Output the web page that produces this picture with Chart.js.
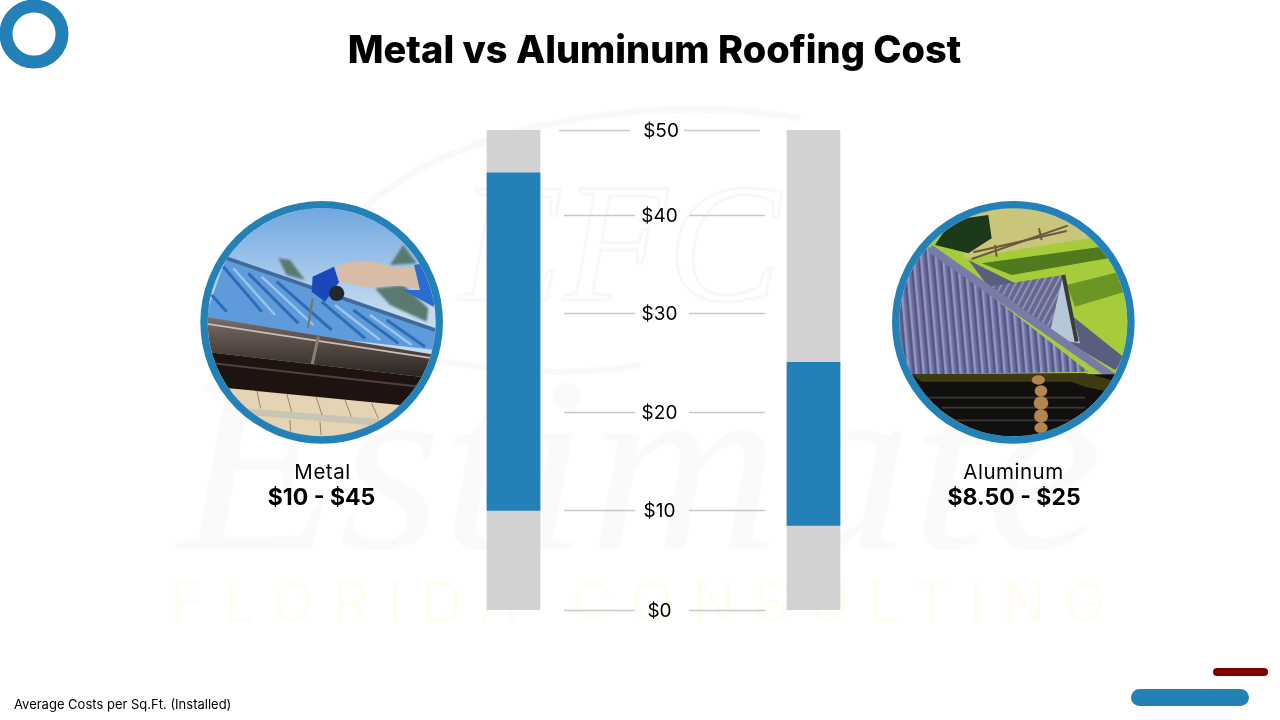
<!DOCTYPE html>
<html>
<head>
<meta charset="utf-8">
<title>Metal vs Aluminum Roofing Cost</title>
<script src="https://cdn.jsdelivr.net/npm/chart.js@4"></script>
<style>
  html, body { margin: 0; padding: 0; background: #fff; }
  #page { position: relative; width: 1280px; height: 720px; overflow: hidden; font-family: Inter, sans-serif; color: #000; }
  #art, #chart { position: absolute; left: 0; top: 0; }
  .txt { position: absolute; white-space: nowrap; text-align: center; transform: translateX(-50%); }
  #title { left: 654.5px; top: 26px; font-size: 38px; font-weight: 800; }
  .name { top: 459px; font-size: 20.5px; font-weight: 400; letter-spacing: 0.5px; }
  .range { top: 483px; font-size: 23px; font-weight: 700; }
  #note { position: absolute; left: 14px; top: 696px; font-size: 13px; white-space: nowrap; }
</style>
</head>
<body>
<div id="page">
  <svg id="art" width="1280" height="720" viewBox="0 0 1280 720">
    <defs>
      <clipPath id="clipLeft"><circle cx="395" cy="382" r="342"/></clipPath>
      <clipPath id="clipRight"><circle cx="385" cy="382" r="342"/></clipPath>
      <linearGradient id="sky" x1="0" y1="0" x2="0" y2="1">
        <stop offset="0" stop-color="#6fa6e0"/><stop offset="0.45" stop-color="#c3daf0"/>
      </linearGradient>
      <linearGradient id="gutter" x1="0" y1="0" x2="0" y2="1">
        <stop offset="0" stop-color="#7a6e66"/><stop offset="0.6" stop-color="#4a403a"/><stop offset="1" stop-color="#2a2320"/>
      </linearGradient>
      <filter id="soft"><feGaussianBlur stdDeviation="3"/></filter>
      <pattern id="ribs" width="22" height="30" patternUnits="userSpaceOnUse" patternTransform="rotate(-5)">
        <rect width="22" height="30" fill="#6a6c9c"/><rect width="7" height="30" fill="#9496c4"/><rect x="15" width="5" height="30" fill="#4e5080"/>
      </pattern>
      <pattern id="ribs2" width="18" height="30" patternUnits="userSpaceOnUse" patternTransform="rotate(28)">
        <rect width="18" height="30" fill="#65678f"/><rect width="6" height="30" fill="#8e90b8"/>
      </pattern>
    </defs>

    <!-- faint watermark -->
    <g fill="none" stroke="#f9f9f9">
      <path d="M345 230 C 420 130, 640 90, 800 118" stroke-width="7"/>
      <path d="M340 330 C 420 370, 560 380, 640 365" stroke-width="6"/>
    </g>
    <text x="620" y="300" text-anchor="middle" font-family="Liberation Serif" font-style="italic" font-size="170" fill="none" stroke="#f8f8f8" stroke-width="3">EFC</text>
    <text x="640" y="548" text-anchor="middle" font-family="Liberation Serif" font-style="italic" font-size="250" textLength="925" lengthAdjust="spacingAndGlyphs" fill="#fafafa">Estimate</text>
    <text x="638" y="622" text-anchor="middle" font-family="Inter" font-size="56" textLength="935" fill="#fffdf3">FLORIDA CONSULTING</text>

    <!-- corner and footer shapes -->
    <circle cx="34" cy="34" r="28" fill="#fff" stroke="#2481b7" stroke-width="13"/>
    <rect x="1213" y="668" width="55" height="8" rx="4" fill="#800000"/>
    <rect x="1131" y="689" width="118" height="17" rx="8.5" fill="#2481b7"/>

    <!-- metal roof photo, drawn in zoom units -->
    <g transform="translate(190 195) scale(0.33333)">
      <g clip-path="url(#clipLeft)">
        <rect x="40" y="30" width="710" height="710" fill="url(#sky)"/>
        <g fill="#5a7a70" filter="url(#soft)">
          <path d="M265 190 L 300 195 L 345 255 L 290 240 Z"/>
          <path d="M600 210 L 640 150 L 680 205 Z"/>
          <path d="M555 280 L 640 270 L 715 340 L 710 380 L 600 330 Z"/>
        </g>
        <polygon points="40,380 110,185 735,405 740,465 380,425" fill="#5f9bdb"/>
        <g stroke="#2f6cb5" stroke-width="9" fill="none">
          <line x1="100" y1="215" x2="215" y2="350"/>
          <line x1="175" y1="235" x2="325" y2="385"/>
          <line x1="260" y1="260" x2="425" y2="405"/>
          <line x1="395" y1="320" x2="525" y2="430"/>
          <line x1="490" y1="345" x2="625" y2="445"/>
          <line x1="590" y1="375" x2="705" y2="455"/>
          <line x1="65" y1="300" x2="110" y2="350"/>
        </g>
        <g stroke="#9cc6ee" stroke-width="7" fill="none">
          <line x1="130" y1="220" x2="255" y2="360"/>
          <line x1="215" y1="245" x2="370" y2="390"/>
          <line x1="435" y1="330" x2="570" y2="435"/>
          <line x1="540" y1="360" x2="665" y2="450"/>
        </g>
        <line x1="110" y1="190" x2="735" y2="405" stroke="#3f6a9c" stroke-width="11"/>
        <polygon points="40,365 740,480 730,550 40,470" fill="url(#gutter)"/>
        <line x1="40" y1="385" x2="730" y2="490" stroke="#c9c1b8" stroke-width="5"/>
        <line x1="385" y1="425" x2="365" y2="515" stroke="#8a7f75" stroke-width="9"/>
        <polygon points="40,470 730,550 640,640 90,585" fill="#1e1311"/>
        <line x1="70" y1="505" x2="690" y2="575" stroke="#51413a" stroke-width="6"/>
        <polygon points="100,578 630,630 520,745 230,745" fill="#e4d4b4"/>
        <polygon points="170,640 570,672 560,692 175,660" fill="#c9c5b4"/>
        <g stroke="#6d5f4a" stroke-width="2" fill="none">
          <line x1="200" y1="585" x2="212" y2="640"/>
          <line x1="290" y1="595" x2="305" y2="650"/>
          <line x1="378" y1="605" x2="396" y2="660"/>
          <line x1="465" y1="615" x2="484" y2="665"/>
          <line x1="545" y1="625" x2="565" y2="670"/>
          <line x1="300" y1="675" x2="302" y2="710"/>
          <line x1="390" y1="680" x2="393" y2="720"/>
        </g>
        <path d="M438 215 C 500 190, 560 195, 600 215 L 680 218 L 690 285 C 630 262, 560 280, 520 276 L 445 258 Z" fill="#d9bca6"/>
        <polygon points="672,210 700,205 740,300 730,335 640,285 690,285" fill="#2a6cd2"/>
        <line x1="368" y1="310" x2="354" y2="398" stroke="#6f7a72" stroke-width="7"/>
        <path d="M368 245 L 432 215 L 447 262 L 405 320 L 365 290 Z" fill="#1a47ba"/>
        <circle cx="440" cy="295" r="23" fill="#23272e"/>
      </g>
      <circle cx="395" cy="382" r="353" fill="none" stroke="#2481b7" stroke-width="22"/>
    </g>

    <!-- aluminum roof photo, drawn in zoom units -->
    <g transform="translate(885 195) scale(0.33333)">
      <g clip-path="url(#clipRight)">
        <rect x="30" y="30" width="710" height="710" fill="#a6cc3c"/>
        <polygon points="200,30 560,30 610,130 240,190" fill="#c9c67c"/>
        <polygon points="290,205 650,155 670,190 380,240" fill="#4f7a1e"/>
        <polygon points="545,270 705,230 720,290 570,335" fill="#6b9626"/>
        <g stroke="#6a593a" stroke-width="6" fill="none">
          <line x1="260" y1="192" x2="548" y2="92"/>
          <line x1="265" y1="172" x2="545" y2="108"/>
          <line x1="330" y1="150" x2="335" y2="185"/>
          <line x1="462" y1="100" x2="470" y2="135"/>
        </g>
        <g fill="#1c3a1a">
          <path d="M150 150 L 200 75 L 310 60 L 320 130 L 250 175 L 190 160 Z"/>
        </g>
        <polygon points="250,195 390,265 570,370 720,490 690,525 520,425 310,275" fill="#5a5e7e"/>
        <polygon points="310,275 535,240 495,410" fill="url(#ribs2)"/>
        <polygon points="535,240 585,445 520,435 495,410" fill="#b6c8d6"/>
        <line x1="535" y1="240" x2="575" y2="440" stroke="#3c3a38" stroke-width="12"/>
        <polygon points="20,540 20,250 130,155 610,530" fill="url(#ribs)"/>
        <line x1="135" y1="160" x2="690" y2="550" stroke="#787aa8" stroke-width="24"/>
        <rect x="30" y="538" width="710" height="210" fill="#12100e"/>
        <polygon points="80,538 600,534 700,560 670,590 600,575 560,560 110,560" fill="#3e3b12"/>
        <g stroke="#3a3836" stroke-width="5" fill="none">
          <line x1="120" y1="608" x2="600" y2="608"/>
          <line x1="170" y1="638" x2="600" y2="638"/>
          <line x1="210" y1="676" x2="560" y2="676"/>
        </g>
        <g fill="#b5854f">
          <ellipse cx="460" cy="555" rx="20" ry="14"/>
          <ellipse cx="468" cy="588" rx="19" ry="17"/>
          <ellipse cx="468" cy="624" rx="22" ry="20"/>
          <ellipse cx="468" cy="663" rx="21" ry="20"/>
          <ellipse cx="468" cy="698" rx="20" ry="16"/>
        </g>
      </g>
      <circle cx="385" cy="382" r="353" fill="none" stroke="#2481b7" stroke-width="22"/>
    </g>
  </svg>

  <canvas id="chart" width="1280" height="720"></canvas>

  <div id="title" class="txt">Metal vs Aluminum Roofing Cost</div>
  <div id="name-0" class="txt name" style="left:322.5px"></div>
  <div id="range-0" class="txt range" style="left:321.5px"></div>
  <div id="name-1" class="txt name" style="left:1013.5px"></div>
  <div id="range-1" class="txt range" style="left:1014px"></div>
  <div id="note">Average Costs per Sq.Ft. (Installed)</div>
</div>

<script>
const categories = ["Metal", "Aluminum"];
const costRanges = [[10, 45], [8.5, 25]];
const fullScale = [[0, 50], [0, 50]];
const rangeLabels = ["$10 - $45", "$8.50 - $25"];
const tickValues = [0, 10, 20, 30, 40, 50];

categories.forEach((name, i) => {
  document.getElementById(`name-${i}`).textContent = name;
  document.getElementById(`range-${i}`).textContent = rangeLabels[i];
});

// The reference's axis is hand spaced, so $40 to $50 is shorter than the other steps.
// Height of each tick up the axis, as a fraction of the axis length.
const TICK_HEIGHTS = [0, 0.2073, 0.4135, 0.6188, 0.8219, 1];

class SpacedScale extends Chart.LinearScale {
  getPixelForValue(value) {
    const step = Math.min(Math.floor(value / 10), TICK_HEIGHTS.length - 2);
    const low = TICK_HEIGHTS[step];
    const high = TICK_HEIGHTS[step + 1];
    const height = low + (high - low) * (value / 10 - step);
    return this.bottom - height * (this.bottom - this.top);
  }
}
SpacedScale.id = "spaced";
SpacedScale.defaults = Chart.LinearScale.defaults;
Chart.register(SpacedScale);

// Draws the centre axis: label with a short rule either side
const centerAxis = {
  id: "centerAxis",
  afterDatasetsDraw(chart) {
    const { ctx, scales } = chart;
    ctx.save();
    ctx.font = "400 19px Inter";
    ctx.textAlign = "center";
    ctx.textBaseline = "middle";
    scales.y.ticks.forEach((tick) => {
      const y = Math.round(scales.y.getPixelForValue(tick.value)) + 0.5;
      const shift = tick.value === 50 ? -5 : 0; // top rule sits further left
      ctx.strokeStyle = "#c9c9c9";
      ctx.lineWidth = 1.5;
      ctx.beginPath();
      ctx.moveTo(564 + shift, y);
      ctx.lineTo(635 + shift, y);
      ctx.moveTo(689 + shift, y);
      ctx.lineTo(765 + shift, y);
      ctx.stroke();
      ctx.fillStyle = "#000";
      ctx.fillText("$" + tick.value, tick.value === 50 ? 661 : 659.5, y + 1);
    });
    ctx.restore();
  }
};

new Chart(document.getElementById("chart"), {
  type: "bar",
  data: {
    labels: categories,
    datasets: [
      { label: "Cost range", data: costRanges, backgroundColor: "#2481b7", order: 1 },
      { label: "Scale", data: fullScale, backgroundColor: "#d2d2d2", order: 2 }
    ]
  },
  options: {
    responsive: false,
    animation: false,
    devicePixelRatio: 1,
    layout: { padding: { left: 363.5, right: 316.5, top: 130, bottom: 110 } },
    datasets: { bar: { grouped: false, barThickness: 53 } },
    scales: {
      x: { type: "category", display: false },
      y: {
        type: "spaced",
        display: false,
        min: 0,
        max: 50,
        afterBuildTicks: (axis) => { axis.ticks = tickValues.map((value) => ({ value })); }
      }
    },
    plugins: { legend: { display: false }, tooltip: { enabled: false } }
  },
  plugins: [centerAxis]
});
</script>
</body>
</html>
